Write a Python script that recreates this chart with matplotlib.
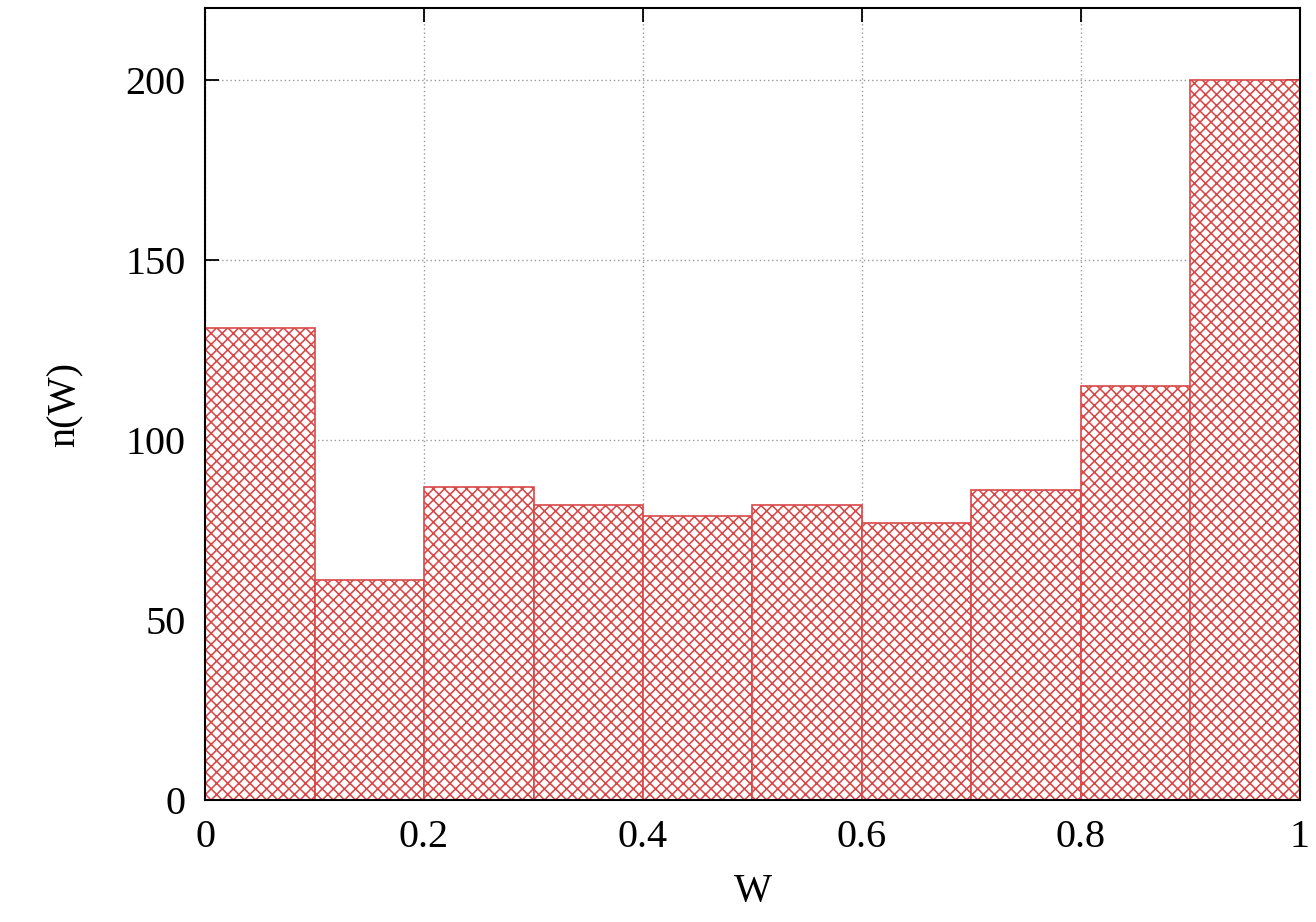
import matplotlib
matplotlib.use("Agg")
import matplotlib.pyplot as plt
import numpy as np

# histogram data
bin_edges = [0.0, 0.1, 0.2, 0.3, 0.4, 0.5, 0.6, 0.7, 0.8, 0.9, 1.0]
counts = [131, 61, 87, 82, 79, 82, 77, 86, 115, 200]

x_ticks = [0, 0.2, 0.4, 0.6, 0.8, 1]
x_tick_labels = ["0", "0.2", "0.4", "0.6", "0.8", "1"]
y_ticks = [0, 50, 100, 150, 200]

plt.rcParams["font.family"] = "Liberation Serif"
plt.rcParams["hatch.linewidth"] = 1.15
plt.rcParams["hatch.color"] = "#c95a5a"

fig = plt.figure(figsize=(13.16, 9.22), dpi=100)
ax = fig.add_axes([0.1558, 0.1323, 0.8320, 0.8590])

lefts = np.array(bin_edges[:-1])
widths = np.diff(bin_edges)
ax.bar(lefts, counts, width=widths, align="edge",
       facecolor="white", edgecolor="#d84848", linewidth=1.2,
       hatch="xxx", zorder=3)

ax.set_xlim(0, 1)
ax.set_ylim(0, 220)
ax.set_xticks(x_ticks)
ax.set_xticklabels(x_tick_labels)
ax.set_yticks(y_ticks)

ax.grid(True, color="#9a9a9a", linestyle=(0, (1, 2)), linewidth=1.0, zorder=0)
ax.set_axisbelow(True)

ax.tick_params(direction="in", length=10, width=1.3, top=True, right=True,
               labelsize=29, pad=14)
for s in ax.spines.values():
    s.set_linewidth(1.5)
    s.set_zorder(5)

ax.set_xlabel("W", fontsize=29, labelpad=12)
ax.set_ylabel("n(W)", fontsize=29, labelpad=30)

fig.savefig("out.png", dpi=100)
